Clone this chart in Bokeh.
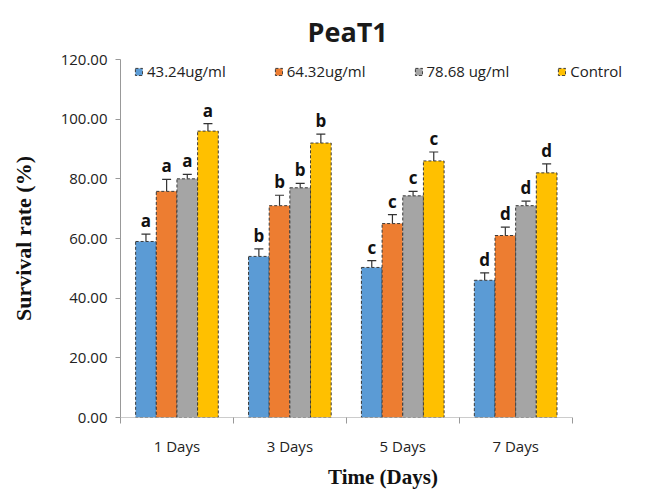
import numpy as np
from bokeh.plotting import figure
from bokeh.models import (ColumnDataSource, Range1d, FixedTicker, NumeralTickFormatter,
                          Whisker, TeeHead, Legend, LegendItem)
from bokeh.core.properties import value
from bokeh.embed import file_html
from bokeh.resources import INLINE

days = ["1 Days", "3 Days", "5 Days", "7 Days"]
series_names = ["43.24ug/ml", "64.32ug/ml", "78.68 ug/ml", "Control"]
colors = ["#5B9BD5", "#ED7D31", "#A5A5A5", "#FFC000"]
v_4324 = [59.0, 54.0, 50.3, 46.0]
v_6432 = [75.8, 71.0, 65.0, 61.0]
v_7868 = [80.0, 77.0, 74.3, 71.0]
v_ctrl = [96.0, 92.0, 86.0, 82.0]
e_4324 = [2.5, 2.5, 2.3, 2.5]
e_6432 = [4.0, 3.5, 3.0, 2.8]
e_7868 = [1.5, 1.5, 1.5, 1.5]
e_ctrl = [2.5, 3.0, 3.0, 3.0]
letters = ["a", "b", "c", "d"]
y_ticks = [0, 20, 40, 60, 80, 100, 120]

values = [v_4324, v_6432, v_7868, v_ctrl]
errors = [e_4324, e_6432, e_7868, e_ctrl]

n = len(days)
# frame extends to the right so the legend fits; category area = n units
x_end = n + 0.5 + 0.65
p = figure(width=651, height=491, output_backend="svg", toolbar_location=None,
           x_range=Range1d(0.5, x_end), y_range=Range1d(0, 120),
           min_border_left=120, min_border_right=6, min_border_top=58, min_border_bottom=73)
p.title.text = "PeaT1"
p.title.align = "left"
p.title.offset = 187
p.title.standoff = 20
p.title.text_font = "Open Sans"
p.title.text_font_size = "27px"
p.title.text_font_style = "bold"
p.title.text_color = "#1a1a1a"
p.outline_line_color = None
p.xgrid.visible = False
p.ygrid.visible = False

bw = 0.183
centers = np.arange(1, n + 1)
offsets = [-1.5 * bw, -0.5 * bw, 0.5 * bw, 1.5 * bw]
items = []
for i in range(4):
    xs = centers + offsets[i]
    vals = np.array(values[i])
    errs = np.array(errors[i])
    src = ColumnDataSource(dict(x=xs, top=vals, upper=vals + errs,
                                lab=[letters[j] for j in range(n)]))
    r = p.vbar(x="x", top="top", width=bw, source=src, fill_color=colors[i],
               line_color="#3a3a3a", line_dash="3 2", line_width=1)
    items.append(LegendItem(label=series_names[i], renderers=[r]))
    w = Whisker(source=src, base="x", upper="upper", lower="top",
                line_color="#333333", line_width=1.2,
                upper_head=TeeHead(size=9, line_color="#333333", line_width=1.2),
                lower_head=None)
    p.add_layout(w)
    p.text(x="x", y="upper", text="lab", source=src, text_align="center",
           text_baseline="bottom", y_offset=-2, text_font=value("Open Sans"),
           text_font_size="17px", text_font_style="bold", text_color="#111111")

# x axis baseline only across the category area
p.segment(x0=[0.5], x1=[n + 0.5], y0=[0], y1=[0], line_color="#999999", line_width=1)

xt = FixedTicker(ticks=list(centers), minor_ticks=list(np.arange(0.5, n + 0.6, 1.0)))
p.xaxis.ticker = xt
p.xaxis.major_label_overrides = {int(c): d for c, d in zip(centers, days)}
p.xaxis.major_tick_line_color = None
p.xaxis.minor_tick_out = 6
p.xaxis.minor_tick_in = 0
p.xaxis.minor_tick_line_color = "#999999"
p.xaxis.axis_line_color = None
p.xaxis.major_label_standoff = 12
p.xaxis.major_label_text_font = "Open Sans"
p.xaxis.major_label_text_font_size = "15px"
p.xaxis.major_label_text_color = "#222222"
p.xaxis.axis_label = "Time (Days)"
p.xaxis.axis_label_text_font = "Liberation Serif"
p.xaxis.axis_label_text_font_size = "21px"
p.xaxis.axis_label_text_font_style = "bold"
p.xaxis.axis_label_text_color = "#111111"
p.xaxis.axis_label_standoff = 6

p.yaxis.ticker = FixedTicker(ticks=y_ticks)
p.yaxis.formatter = NumeralTickFormatter(format="0.00")
p.yaxis.minor_tick_line_color = None
p.yaxis.major_tick_out = 5
p.yaxis.major_tick_in = 0
p.yaxis.major_tick_line_color = "#999999"
p.yaxis.axis_line_color = "#999999"
p.yaxis.major_label_standoff = 8
p.yaxis.major_label_text_font = "Open Sans"
p.yaxis.major_label_text_font_size = "15px"
p.yaxis.major_label_text_color = "#222222"
p.yaxis.axis_label = "Survival rate (%)"
p.yaxis.axis_label_text_font = "Liberation Serif"
p.yaxis.axis_label_text_font_size = "22px"
p.yaxis.axis_label_text_font_style = "bold"
p.yaxis.axis_label_text_color = "#111111"
p.yaxis.axis_label_standoff = 22

legend = Legend(items=items, orientation="horizontal", location=(14, 336),
                glyph_width=9, glyph_height=9, label_standoff=4,
                spacing=48, padding=2, margin=0, border_line_color=None,
                background_fill_alpha=0, label_text_font="Open Sans",
                label_text_font_size="15px", label_text_color="#222222")
p.add_layout(legend)

open("out.html", "w").write(file_html(p, INLINE))
